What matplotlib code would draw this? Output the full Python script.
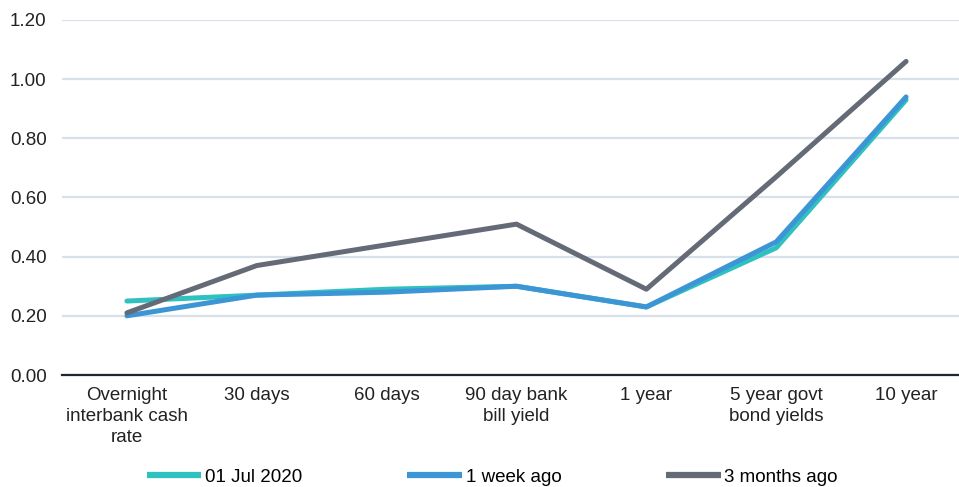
import matplotlib
matplotlib.use("Agg")
import matplotlib.pyplot as plt

categories = ["Overnight\ninterbank cash\nrate", "30 days", "60 days", "90 day bank\nbill yield",
              "1 year", "5 year govt\nbond yields", "10 year"]
jul_2020 = [0.25, 0.27, 0.29, 0.30, 0.23, 0.43, 0.93]
week_ago = [0.20, 0.27, 0.28, 0.30, 0.23, 0.45, 0.94]
months3_ago = [0.21, 0.37, 0.44, 0.51, 0.29, 0.67, 1.06]
series_names = ["01 Jul 2020", "1 week ago", "3 months ago"]
yticks = [0.0, 0.2, 0.4, 0.6, 0.8, 1.0, 1.2]

plt.rcParams['font.family'] = ['Liberation Sans', 'DejaVu Sans']
fig = plt.figure(figsize=(9.59, 4.87), dpi=100)
W, H = 959, 487
ax = fig.add_axes([62 / W, (H - 375) / H, (971 - 62) / W, 355 / H])

FS = 13.5
colors = ["#2FC0C0", "#3C95D5", "#646B76"]
x = list(range(len(categories)))
for vals, name, c in zip([jul_2020, week_ago, months3_ago], series_names, colors):
    ax.plot(x, vals, color=c, lw=3.6, solid_capstyle='round', solid_joinstyle='round', label=name)

ax.set_xlim(-0.5, len(categories) - 0.5)
ax.set_ylim(0, 1.2)
ax.set_yticks(yticks)
ax.set_yticklabels([f"{v:.2f}" for v in yticks], fontsize=FS, color="#222222")
ax.set_xticks(x)
ax.set_xticklabels(categories, fontsize=FS, color="#222222", linespacing=1.3)
ax.tick_params(axis='both', length=0)
ax.tick_params(axis='y', pad=11)
ax.tick_params(axis='x', pad=9)
ax.grid(axis='y', color="#D8E0EA", lw=1.6)
ax.set_axisbelow(True)
for s in ['top', 'right', 'left']:
    ax.spines[s].set_visible(False)
ax.spines['bottom'].set_color("#1E2733")
ax.spines['bottom'].set_linewidth(1.6)

handles, labels = ax.get_legend_handles_labels()
leg = fig.legend(handles, labels, loc='center', bbox_to_anchor=(0.5136, (H - 477) / H), ncol=3,
                 frameon=False, fontsize=FS, handlelength=2.9, handletextpad=0.2,
                 columnspacing=5.6)
for l in leg.get_lines():
    l.set_linewidth(4.5)
    l.set_solid_capstyle('butt')

fig.savefig("out.png", dpi=100)
